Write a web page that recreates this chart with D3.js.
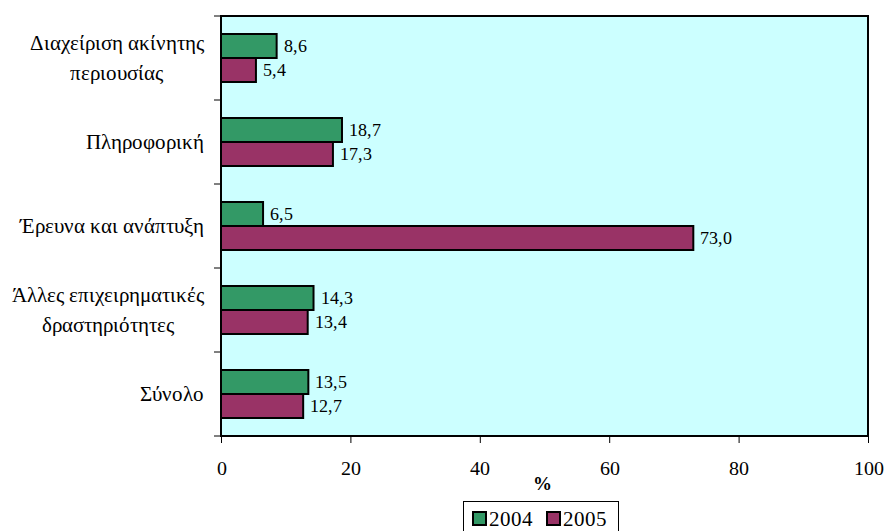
<!DOCTYPE html>
<html><head><meta charset="utf-8">
<script src="https://cdn.jsdelivr.net/npm/d3@7"></script>
<style>
@font-face{font-family:"ChartSerif";src:local("Liberation Serif"),local("LiberationSerif"),local("LiberationSerif-Regular"),local("Tinos"),local("Nimbus Roman"),local("FreeSerif");font-weight:normal;}
@font-face{font-family:"ChartSerif";src:local("Liberation Serif Bold"),local("LiberationSerif-Bold"),local("Tinos Bold"),local("FreeSerif Bold");font-weight:bold;}
body{margin:0;background:#fff}
svg{display:block}
svg text{font-family:"ChartSerif","Liberation Serif","Times New Roman",serif !important}
</style>
</head><body>
<script>
const categories = [["Διαχείριση ακίνητης","περιουσίας"],["Πληροφορική"],["Έρευνα και ανάπτυξη"],["Άλλες επιχειρηματικές","δραστηριότητες"],["Σύνολο"]];
const series = ["2004","2005"];
const values2004 = [8.6, 18.7, 6.5, 14.3, 13.5];
const values2005 = [5.4, 17.3, 73.0, 13.4, 12.7];
const xTicks = [0,20,40,60,80,100];
const colors = ["#339966","#993366"];

const W=884,H=531;
const svg=d3.select("body").append("svg").attr("width",W).attr("height",H);
const L=221,R=868,T=16,B=436;
const x=d3.scaleLinear().domain([0,100]).range([L,R]);
const idx=d3.range(categories.length);
const y=d3.scaleBand().domain(idx).range([T,B]).padding(0);
const ys=d3.scaleBand().domain(series).range([0,y.bandwidth()]).paddingInner(0).paddingOuter(0.75);
const vals=[values2004,values2005];

svg.append("rect").attr("x",L).attr("y",T).attr("width",R-L).attr("height",B-T).attr("fill","#CCFFFF");

const g=svg.append("g");
const labelTexts=[];
idx.forEach(i=>{
  series.forEach((s,j)=>{
    const v=vals[j][i];
    g.append("rect").attr("x",x(0)).attr("y",y(i)+ys(s)).attr("width",x(v)-x(0)).attr("height",ys.bandwidth())
      .attr("fill",colors[j]).attr("stroke","#000").attr("stroke-width",2);
    g.append("text").attr("x",x(v)+7).attr("y",y(i)+ys(s)+ys.bandwidth()/2).attr("dy","0.35em")
      .attr("font-size",18).text(d3.format(".1f")(v).replace(".",","));
  });
  const lines=categories[i];
  const lh=30;
  const cy=y(i)+y.bandwidth()/2;
  const t=svg.append("text").attr("font-size",21).attr("text-anchor","middle");
  lines.forEach((ln,k)=>{
    t.append("tspan").attr("x",0).attr("y",cy+(k-(lines.length-1)/2)*lh).attr("dy","0.35em").text(ln);
  });
  labelTexts.push(t);
});
function alignLabels(){
  labelTexts.forEach(t=>{
    t.selectAll("tspan").attr("x",0);
    const bw=t.node().getBBox().width;
    t.selectAll("tspan").attr("x",204-bw/2);
  });
}
alignLabels();
if(document.fonts&&document.fonts.ready){document.fonts.ready.then(alignLabels);}

svg.append("rect").attr("x",L).attr("y",T).attr("width",R-L).attr("height",B-T).attr("fill","none").attr("stroke","#000").attr("stroke-width",2);

d3.range(categories.length+1).forEach(k=>{
  const yy=T+k*y.bandwidth();
  svg.append("line").attr("x1",214).attr("x2",L).attr("y1",yy).attr("y2",yy).attr("stroke","#000").attr("stroke-width",1);
});
const ax=svg.append("g").attr("transform",`translate(0,${B})`).call(d3.axisBottom(x).tickValues(xTicks).tickSize(7).tickPadding(18));
ax.attr("font-family",null).attr("font-size",null);
ax.select(".domain").remove();
ax.selectAll("text").attr("font-size",20).attr("fill","#000");
ax.selectAll("line").attr("stroke","#000");

svg.append("text").attr("x",542).attr("y",490).attr("text-anchor","middle").attr("font-size",19).attr("font-weight","bold").text("%");

const lg=svg.append("g");
lg.append("rect").attr("x",463.5).attr("y",501.5).attr("width",155).attr("height",40).attr("fill","#fff").attr("stroke","#000").attr("stroke-width",1);
const lx=[473,547];
series.forEach((s,j)=>{
  lg.append("rect").attr("x",lx[j]).attr("y",512).attr("width",13).attr("height",13).attr("fill",colors[j]).attr("stroke","#000").attr("stroke-width",2);
  lg.append("text").attr("x",lx[j]+16).attr("y",526).attr("font-size",21).text(s);
});
</script>
</body></html>
